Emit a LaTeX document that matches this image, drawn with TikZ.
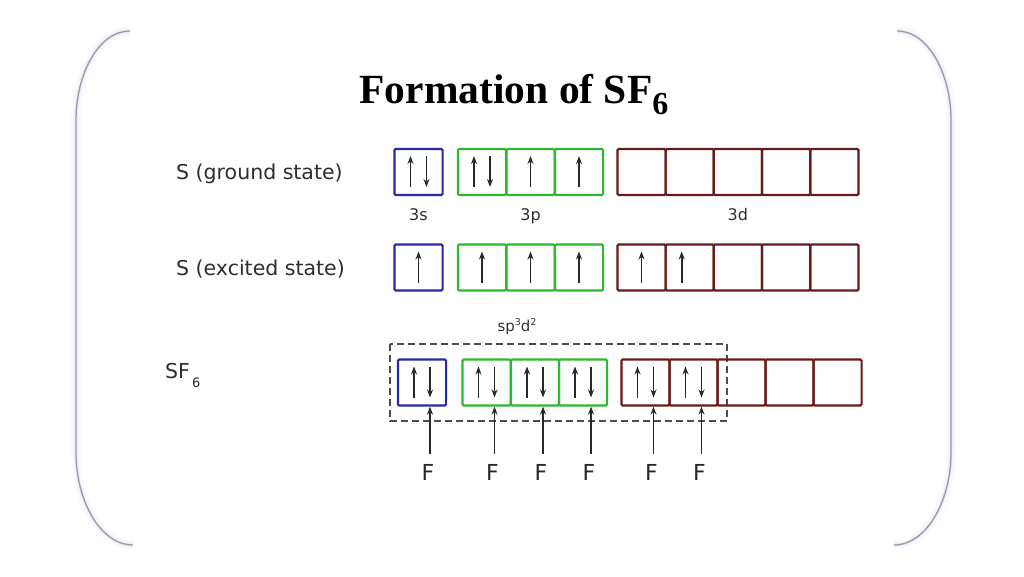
\documentclass[tikz,border=0pt]{standalone}
\usepackage{fontspec}
\setmainfont{DejaVu Sans}
\newfontfamily\titlefont{Liberation Serif}
\usetikzlibrary{arrows.meta,calc}
\definecolor{sblue}{RGB}{40,40,165}
\definecolor{sgreen}{RGB}{45,185,45}
\definecolor{smaroon}{RGB}{105,25,25}
\definecolor{spincol}{RGB}{40,40,40}
\definecolor{framecol}{RGB}{150,156,176}
\newcommand\spinpair[1]{%
  \draw[spinarr] ($(#1.center)+(-8,15)$) -- ($(#1.center)+(-8,-16)$);
  \draw[spinarr] ($(#1.center)+(8,-16)$) -- ($(#1.center)+(8,15)$);}
\newcommand\spinone[2]{%
  \draw[spinarr] ($(#1.center)+(#2,15)$) -- ($(#1.center)+(#2,-16)$);}
\begin{document}
\begin{tikzpicture}[x=1pt,y=-1pt,
  orb/.style={draw, line width=2.2pt, minimum width=48.2pt, minimum height=46pt, inner sep=0pt, rounded corners=1.2pt},
  sorb/.style={orb, draw=sblue},
  porb/.style={orb, draw=sgreen},
  dorb/.style={orb, draw=smaroon},
  spinarr/.style={draw=spincol, line width=1.7pt, -{Stealth[length=8pt,width=6pt]}},
  farr/.style={draw=spincol, line width=1.7pt, -{Stealth[length=8pt,width=6pt]}},
  lbl/.style={font=\fontsize{20.5}{22}\selectfont, text=black!82, inner sep=0pt},
  sub/.style={font=\fontsize{16}{18}\selectfont, text=black!82, inner sep=0pt},
  flbl/.style={font=\fontsize{22}{24}\selectfont, text=black!85, inner sep=0pt},
  hyb/.style={draw=black!70, line width=1.3pt, dash pattern=on 7pt off 4pt}
]
\useasboundingbox (0,0) rectangle (1024,576);
\fill[white] (0,0) rectangle (1024,576);
% frame shadow
\foreach \w/\o in {10/0.03,6/0.05,3/0.10}{
  \draw[framecol, line width=\w pt, opacity=\o]
    (130,31) .. controls (98,31) and (76,75) .. (76,120) -- (76,453) .. controls (76,500) and (100,545) .. (133,545);
  \draw[framecol, line width=\w pt, opacity=\o]
    (897,31) .. controls (929,31) and (951,75) .. (951,120) -- (951,453) .. controls (951,500) and (927,545) .. (894,545);
}
\draw[framecol, line width=1.3pt]
  (130,31) .. controls (98,31) and (76,75) .. (76,120) -- (76,453) .. controls (76,500) and (100,545) .. (133,545);
\draw[framecol, line width=1.3pt]
  (897,31) .. controls (929,31) and (951,75) .. (951,120) -- (951,453) .. controls (951,500) and (927,545) .. (894,545);

% title
\node[anchor=base, inner sep=0pt] (title) at (514,103)
  {\titlefont\bfseries\fontsize{41.5}{44}\selectfont Formation of SF\raisebox{-11pt}{\fontsize{32}{32}\selectfont 6}};

% row labels
\node[lbl, anchor=base west] (lg) at (176,179) {S (ground state)};
\node[lbl, anchor=base west] (le) at (176,275) {S (excited state)};
\node[lbl, anchor=base west] (lsf) at (165,378) {SF\hspace{2pt}\raisebox{-9pt}{\fontsize{13}{13}\selectfont 6}};

% row 1: ground state
\node[sorb] (g0) at (418.5,172) {};
\node[porb] (g1) at (482,172) {};
\node[porb] (g2) at (530.5,172) {};
\node[porb] (g3) at (579,172) {};
\foreach \i in {0,...,4}{ \node[dorb] (gd\i) at (641.5+48.2*\i,172) {}; }
\spinpair{g0}
\spinpair{g1}
\spinone{g2}{0}
\spinone{g3}{0}
\node[sub, anchor=base] (l3s) at (g0.center |- 0,220) {3s};
\node[sub, anchor=base] (l3p) at (g2.center |- 0,220) {3p};
\node[sub, anchor=base] (l3d) at (gd2.center |- 0,220) {3d};

% row 2: excited state
\node[sorb] (e0) at (418.5,267.5) {};
\node[porb] (e1) at (482,267.5) {};
\node[porb] (e2) at (530.5,267.5) {};
\node[porb] (e3) at (579,267.5) {};
\foreach \i in {0,...,4}{ \node[dorb] (ed\i) at (641.5+48.2*\i,267.5) {}; }
\spinone{e0}{0}
\spinone{e1}{0}
\spinone{e2}{0}
\spinone{e3}{0}
\spinone{ed0}{0}
\spinone{ed1}{-8}

% hybridisation label and box
\node[font=\fontsize{15}{17}\selectfont, text=black!80, anchor=base, inner sep=0pt] (hyb) at (517,331)
  {sp\raisebox{6pt}{\fontsize{9.5}{10}\selectfont 3}d\raisebox{6pt}{\fontsize{9.5}{10}\selectfont 2}};
\draw[hyb] (390,344) rectangle (727,421);

% row 3: SF6
\node[sorb] (f0) at (422,382.5) {};
\node[porb] (f1) at (486.5,382.5) {};
\node[porb] (f2) at (535,382.5) {};
\node[porb] (f3) at (583,382.5) {};
\foreach \i in {0,...,4}{ \node[dorb] (fd\i) at (645.5+48*\i,382.5) {}; }
\foreach \n in {f0,f1,f2,f3,fd0,fd1}{ \spinpair{\n} }

% fluorine atoms
\foreach \k/\x/\t in {1/430/f0,2/494.5/f1,3/543/f2,4/591/f3,5/653.5/fd0,6/701.5/fd1}{
  \node[flbl, anchor=base] (F\k) at (\x-2,480) {F};
  \draw[farr] ([yshift=10pt]F\k.north -| \x,0) -- (\x,0 |- \t.south);
}
\end{tikzpicture}
\end{document}
